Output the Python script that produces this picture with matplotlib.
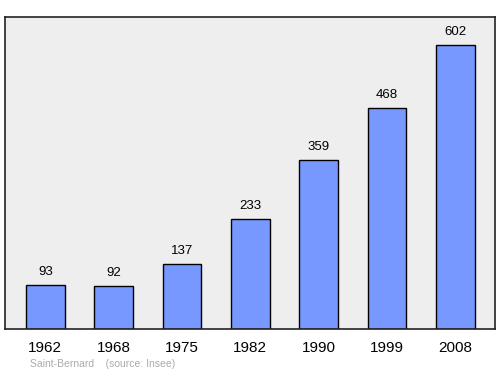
import matplotlib
matplotlib.use("Agg")
import matplotlib.pyplot as plt

plt.rcParams["font.family"] = ["Liberation Sans", "DejaVu Sans"]

years = ["1962", "1968", "1975", "1982", "1990", "1999", "2008"]
population = [93, 92, 137, 233, 359, 468, 602]

fig = plt.figure(figsize=(5, 3.74), dpi=100)
ax = fig.add_axes([0.01, 0.1203, 0.98, 0.8342])
ax.set_facecolor("#eeeeee")

pos = list(range(len(years)))
ax.bar(pos, population, width=0.57, color="#7799ff", edgecolor="black", linewidth=1)

for x, v in zip(pos, population):
    ax.annotate(str(v), (x, v), xytext=(0, 5), textcoords="offset points",
                ha="center", va="bottom", fontsize=9.5)

ax.set_xlim(-0.59, 6.58)
ax.set_ylim(0, 661)
ax.set_xticks(pos)
ax.set_xticklabels(years, fontsize=11)
ax.tick_params(axis="x", length=0, pad=8.5)
ax.set_yticks([])
for s in ax.spines.values():
    s.set_linewidth(1.2)
    s.set_color("#222222")

fig.text(0.06, 0.018, "Saint-Bernard    (source: Insee)", fontsize=7.5, color="#aaaaaa")

fig.savefig("out.png", dpi=100)
